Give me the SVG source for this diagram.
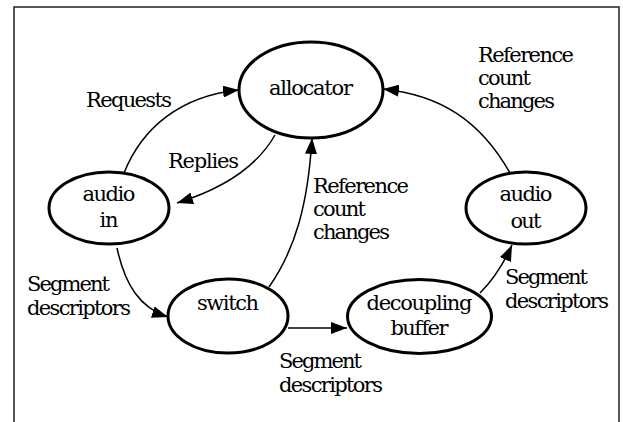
<svg xmlns="http://www.w3.org/2000/svg" width="623" height="422" viewBox="0 0 623 422">
  <defs>
    <marker id="arrow" viewBox="0 0 16 12" refX="16" refY="6" markerWidth="16" markerHeight="12" markerUnits="userSpaceOnUse" orient="auto">
      <path d="M0,0 L16,6 L0,12 Z" fill="#000"/>
    </marker>
  </defs>
  <style>
    .node ellipse { fill: #fff; stroke: #000; stroke-width: 3; }
    .node text { text-anchor: middle; }
    .edge { fill: none; stroke: #000; stroke-width: 1.5; marker-end: url(#arrow); }
  </style>
  <rect width="623" height="422" fill="#fff"/>
  <!-- outer frame, open at the bottom -->
  <path d="M14,422 L14,7 L619,7 L619,422" fill="none" stroke="#222" stroke-width="1.5"/>

  <g id="connectors">
    <path class="edge" d="M124,173 C142,128 180,96 239,90"/>
    <path class="edge" d="M275,135 C258,165 225,188 177,203"/>
    <path class="edge" d="M269,287 C295,250 308,205 312,138"/>
    <path class="edge" d="M510,173 C480,120 440,95 383,89"/>
    <path class="edge" d="M117,248 C125,285 140,308 168,317"/>
    <path class="edge" d="M288,328 L347,328"/>
    <path class="edge" d="M480,293 C493,280 503,265 512,245"/>
  </g>

  <g font-family="DejaVu Serif, serif" font-size="21" fill="#000" lengthAdjust="spacingAndGlyphs">
    <g id="edge-labels">
      <text x="86" y="107" textLength="86">Requests</text>
      <text x="168" y="168" textLength="71">Replies</text>
      <text x="313" y="193" textLength="96">Reference</text>
      <text x="313" y="216" textLength="53">count</text>
      <text x="313" y="239" textLength="77">changes</text>
      <text x="478" y="62" textLength="96">Reference</text>
      <text x="478" y="85" textLength="53">count</text>
      <text x="478" y="108" textLength="77">changes</text>
      <text x="27" y="291" textLength="83">Segment</text>
      <text x="27" y="315" textLength="104">descriptors</text>
      <text x="279" y="368" textLength="83">Segment</text>
      <text x="279" y="392" textLength="104">descriptors</text>
      <text x="505" y="284" textLength="83">Segment</text>
      <text x="505" y="308" textLength="104">descriptors</text>
    </g>

    <g id="allocator" class="node">
      <ellipse cx="311" cy="90" rx="72" ry="48"/>
      <text x="311" y="95" textLength="84">allocator</text>
    </g>
    <g id="audio-in" class="node">
      <ellipse cx="109" cy="208" rx="60" ry="36"/>
      <text x="109" y="201" textLength="53">audio</text>
      <text x="109" y="227" textLength="19">in</text>
    </g>
    <g id="switch" class="node">
      <ellipse cx="228" cy="316" rx="60" ry="37"/>
      <text x="228" y="310" textLength="62">switch</text>
    </g>
    <g id="decoupling-buffer" class="node">
      <ellipse cx="419.5" cy="316.5" rx="72" ry="37"/>
      <text x="419.5" y="310" textLength="106">decoupling</text>
      <text x="419.5" y="335" textLength="58">buffer</text>
    </g>
    <g id="audio-out" class="node">
      <ellipse cx="526" cy="208" rx="60" ry="36"/>
      <text x="526" y="201" textLength="53">audio</text>
      <text x="526" y="228" textLength="31">out</text>
    </g>
  </g>
</svg>
